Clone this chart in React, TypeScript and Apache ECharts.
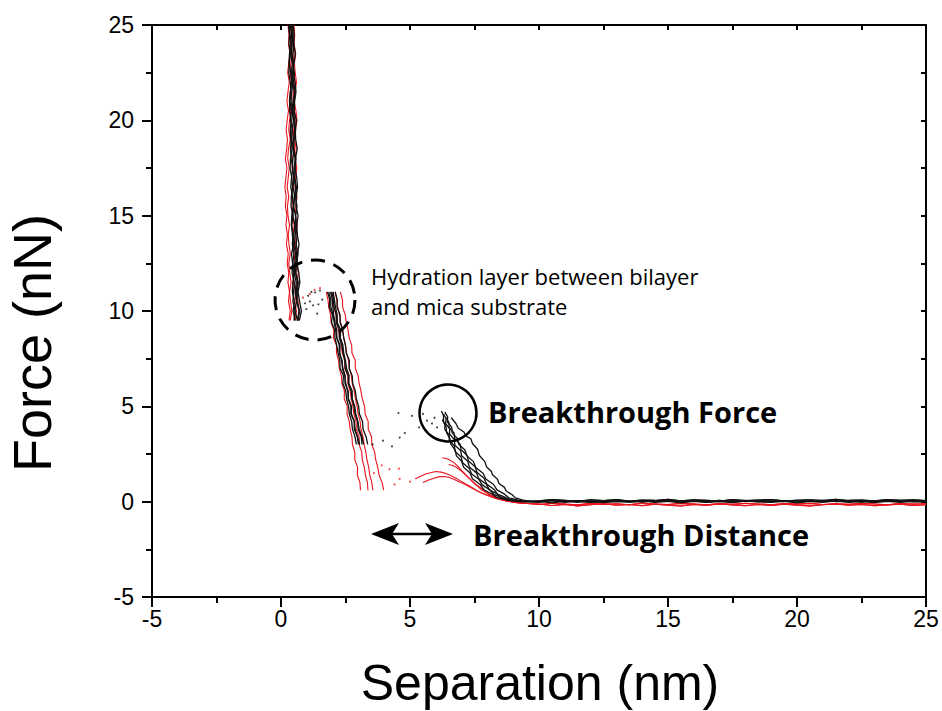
import React, { useEffect, useRef } from "react";
import * as echarts from "echarts";

// ---------- data ----------
// Hard-wall region: force levels (nN) and separation (nm) of each curve at those levels
const wallLevels = [25, 24.5, 24, 23.5, 23, 22.5, 22, 21.5, 21, 20.5, 20, 19.5, 19, 18.5, 18, 17.5, 17, 16.5, 16, 15.5, 15, 14.5, 14, 13.5, 13, 12.5, 12, 11.5, 11, 10.5, 10, 9.5];
const wallB1 = [0.40, 0.46, 0.43, 0.41, 0.49, 0.45, 0.44, 0.52, 0.47, 0.42, 0.49, 0.53, 0.48, 0.46, 0.55, 0.51, 0.50, 0.57, 0.52, 0.49, 0.56, 0.60, 0.55, 0.53, 0.61, 0.58, 0.56, 0.64, 0.59, 0.62, 0.70, 0.63];
const wallB2 = [0.32, 0.35, 0.40, 0.33, 0.31, 0.38, 0.42, 0.36, 0.34, 0.41, 0.37, 0.44, 0.40, 0.37, 0.39, 0.46, 0.41, 0.38, 0.45, 0.48, 0.42, 0.40, 0.47, 0.44, 0.50, 0.46, 0.43, 0.52, 0.49, 0.46, 0.55, 0.50];
const wallB3 = [0.47, 0.51, 0.49, 0.56, 0.50, 0.48, 0.55, 0.58, 0.53, 0.51, 0.60, 0.55, 0.57, 0.63, 0.56, 0.54, 0.61, 0.64, 0.59, 0.58, 0.66, 0.61, 0.63, 0.70, 0.64, 0.62, 0.69, 0.73, 0.66, 0.72, 0.79, 0.71];
const wallB4 = [0.36, 0.41, 0.38, 0.37, 0.44, 0.40, 0.46, 0.42, 0.39, 0.45, 0.48, 0.43, 0.41, 0.49, 0.46, 0.44, 0.51, 0.47, 0.53, 0.49, 0.46, 0.54, 0.50, 0.48, 0.57, 0.53, 0.51, 0.59, 0.55, 0.60, 0.54, 0.64];
const wallB5 = [0.43, 0.45, 0.50, 0.46, 0.44, 0.52, 0.48, 0.55, 0.50, 0.47, 0.53, 0.57, 0.51, 0.49, 0.58, 0.55, 0.53, 0.60, 0.56, 0.62, 0.57, 0.55, 0.63, 0.59, 0.66, 0.60, 0.58, 0.67, 0.63, 0.61, 0.72, 0.66];
const wallB6 = [0.29, 0.33, 0.31, 0.37, 0.32, 0.30, 0.36, 0.39, 0.34, 0.33, 0.40, 0.36, 0.38, 0.43, 0.37, 0.35, 0.42, 0.45, 0.40, 0.39, 0.46, 0.42, 0.44, 0.48, 0.41, 0.45, 0.50, 0.46, 0.44, 0.52, 0.47, 0.55];
const wallR1 = [0.36, 0.40, 0.37, 0.43, 0.38, 0.35, 0.41, 0.36, 0.32, 0.38, 0.33, 0.30, 0.36, 0.29, 0.26, 0.32, 0.28, 0.24, 0.30, 0.25, 0.27, 0.33, 0.28, 0.31, 0.36, 0.30, 0.34, 0.39, 0.33, 0.37, 0.42, 0.36];
const wallR2 = [0.44, 0.47, 0.45, 0.51, 0.46, 0.49, 0.54, 0.48, 0.46, 0.52, 0.55, 0.49, 0.47, 0.53, 0.45, 0.43, 0.50, 0.46, 0.41, 0.47, 0.44, 0.51, 0.47, 0.53, 0.50, 0.56, 0.51, 0.48, 0.57, 0.53, 0.60, 0.55];
const wallR3 = [0.27, 0.31, 0.29, 0.35, 0.30, 0.26, 0.32, 0.27, 0.23, 0.29, 0.24, 0.20, 0.25, 0.22, 0.17, 0.23, 0.19, 0.15, 0.20, 0.17, 0.23, 0.19, 0.25, 0.21, 0.28, 0.24, 0.30, 0.27, 0.33, 0.29, 0.36, 0.31];
const wallR4 = [0.50, 0.53, 0.51, 0.57, 0.52, 0.55, 0.60, 0.54, 0.51, 0.58, 0.62, 0.56, 0.53, 0.59, 0.55, 0.61, 0.57, 0.54, 0.62, 0.58, 0.56, 0.63, 0.59, 0.57, 0.64, 0.60, 0.67, 0.62, 0.59, 0.66, 0.71, 0.64];

// Second slope (bilayer compression after the hydration jump)
const slopeLevelsB = [11, 10.6, 10.2, 9.8, 9.4, 9.0, 8.6, 8.2, 7.8, 7.4, 7.0, 6.6, 6.2, 5.8, 5.4, 5.0, 4.6, 4.2, 3.8, 3.4, 3.0];
const slopeLevelsR = [11, 10.6, 10.2, 9.8, 9.4, 9.0, 8.6, 8.2, 7.8, 7.4, 7.0, 6.6, 6.2, 5.8, 5.4, 5.0, 4.6, 4.2, 3.8, 3.4, 3.0, 2.6, 2.2, 1.8, 1.4, 1.0, 0.6];
const slopeB1 = [1.92, 1.99, 2.01, 2.04, 2.09, 2.16, 2.16, 2.29, 2.28, 2.35, 2.40, 2.49, 2.48, 2.60, 2.61, 2.71, 2.71, 2.84, 2.84, 2.97, 3.05];
const slopeB2 = [1.80, 1.89, 1.87, 1.99, 1.96, 2.08, 2.09, 2.16, 2.21, 2.28, 2.29, 2.42, 2.40, 2.51, 2.54, 2.62, 2.65, 2.74, 2.77, 2.87, 2.92];
const slopeB3 = [2.02, 2.07, 2.11, 2.18, 2.18, 2.31, 2.30, 2.40, 2.43, 2.50, 2.54, 2.64, 2.63, 2.76, 2.76, 2.86, 2.90, 2.98, 3.03, 3.14, 3.20];
const slopeB4 = [1.85, 1.93, 1.93, 2.02, 2.06, 2.12, 2.16, 2.26, 2.25, 2.37, 2.38, 2.47, 2.51, 2.59, 2.61, 2.73, 2.73, 2.84, 2.87, 2.96, 3.00];
const slopeB5 = [1.97, 2.03, 2.06, 2.14, 2.14, 2.27, 2.26, 2.36, 2.40, 2.47, 2.49, 2.61, 2.61, 2.72, 2.75, 2.83, 2.87, 2.97, 2.99, 3.11, 3.14];
const slopeB6 = [2.10, 2.18, 2.17, 2.29, 2.29, 2.39, 2.43, 2.50, 2.53, 2.65, 2.64, 2.76, 2.78, 2.88, 2.92, 3.01, 3.04, 3.16, 3.18, 3.30, 3.36];
const slopeR1 = [2.30, 2.38, 2.39, 2.49, 2.53, 2.60, 2.64, 2.74, 2.75, 2.88, 2.88, 2.99, 3.03, 3.10, 3.15, 3.24, 3.26, 3.38, 3.38, 3.51, 3.52, 3.63, 3.67, 3.75, 3.80, 3.92, 3.98];
const slopeR2 = [1.75, 1.82, 1.85, 1.92, 1.94, 2.05, 2.03, 2.15, 2.15, 2.23, 2.26, 2.34, 2.36, 2.46, 2.45, 2.57, 2.56, 2.65, 2.68, 2.75, 2.77, 2.86, 2.86, 2.97, 2.96, 3.06, 3.08];
const slopeR3 = [2.10, 2.16, 2.20, 2.27, 2.31, 2.39, 2.43, 2.50, 2.54, 2.62, 2.65, 2.73, 2.76, 2.84, 2.88, 2.95, 2.99, 3.07, 3.10, 3.18, 3.22, 3.29, 3.33, 3.40, 3.44, 3.52, 3.56];
const slopeR4 = [1.95, 2.04, 2.03, 2.14, 2.16, 2.23, 2.27, 2.35, 2.37, 2.48, 2.47, 2.59, 2.59, 2.68, 2.72, 2.79, 2.82, 2.91, 2.92, 3.03, 3.03, 3.13, 3.15, 3.23, 3.27, 3.35, 3.37];

// Breakthrough region: [separation, force]
const dropB1 = [[6.22, 4.75], [6.30, 4.50], [6.30, 4.22], [6.40, 3.92], [6.42, 3.61], [6.55, 3.30], [6.58, 3.02], [6.75, 2.71], [6.80, 2.40], [7.00, 2.12], [7.08, 1.80], [7.32, 1.52], [7.42, 1.20], [7.72, 0.90], [7.88, 0.61], [8.18, 0.40], [8.38, 0.21], [8.75, 0.09], [9.10, 0.02]];
const dropB2 = [[6.30, 4.60], [6.40, 4.35], [6.38, 4.10], [6.54, 3.82], [6.53, 3.55], [6.72, 3.25], [6.74, 2.96], [6.96, 2.68], [7.00, 2.41], [7.24, 2.12], [7.30, 1.82], [7.58, 1.51], [7.66, 1.21], [7.96, 0.91], [8.08, 0.62], [8.38, 0.41], [8.52, 0.22], [8.90, 0.09], [9.25, 0.02]];
const dropB3 = [[6.40, 4.40], [6.51, 4.15], [6.52, 3.88], [6.71, 3.60], [6.73, 3.31], [6.94, 3.02], [6.98, 2.72], [7.21, 2.43], [7.27, 2.13], [7.52, 1.83], [7.60, 1.53], [7.87, 1.23], [7.97, 0.93], [8.26, 0.64], [8.39, 0.40], [8.70, 0.22], [8.90, 0.10], [9.30, 0.03]];
const dropB4 = [[6.25, 4.30], [6.35, 4.05], [6.35, 3.78], [6.52, 3.50], [6.52, 3.22], [6.72, 2.93], [6.75, 2.63], [6.98, 2.34], [7.04, 2.04], [7.30, 1.74], [7.39, 1.45], [7.68, 1.16], [7.80, 0.88], [8.11, 0.60], [8.25, 0.38], [8.58, 0.20], [8.77, 0.08], [9.15, 0.01]];
const dropB5 = [[6.35, 4.70], [6.46, 4.45], [6.45, 4.18], [6.62, 3.90], [6.63, 3.61], [6.84, 3.31], [6.89, 3.01], [7.13, 2.71], [7.20, 2.41], [7.46, 2.10], [7.55, 1.79], [7.83, 1.49], [7.94, 1.19], [8.24, 0.90], [8.37, 0.62], [8.68, 0.38], [8.83, 0.20], [9.20, 0.08], [9.50, 0.02]];
const dropB6 = [[6.60, 4.40], [6.78, 4.10], [6.87, 3.85], [7.09, 3.65], [7.16, 3.45], [7.36, 3.30], [7.42, 3.05], [7.62, 2.75], [7.69, 2.42], [7.90, 2.10], [7.97, 1.82], [8.16, 1.58], [8.19, 1.42], [8.39, 1.18], [8.45, 0.95], [8.66, 0.75], [8.73, 0.56], [8.96, 0.36], [9.08, 0.20], [9.38, 0.08], [9.70, 0.02]];
const dropR1 = [[6.25, 2.30], [6.40, 2.26], [6.55, 2.18], [6.70, 2.05], [6.85, 1.86], [7.00, 1.64], [7.15, 1.43], [7.30, 1.22], [7.45, 1.00], [7.62, 0.80], [7.80, 0.60], [8.00, 0.42], [8.20, 0.27], [8.45, 0.14], [8.75, 0.03], [9.10, -0.05]];
const dropR2 = [[6.50, 1.95], [6.65, 1.90], [6.80, 1.80], [6.95, 1.65], [7.10, 1.47], [7.25, 1.28], [7.40, 1.10], [7.55, 0.92], [7.72, 0.74], [7.90, 0.55], [8.10, 0.38], [8.35, 0.22], [8.60, 0.10], [8.90, 0.01], [9.20, -0.06]];
const dropR3 = [[5.20, 1.20], [5.40, 1.32], [5.60, 1.45], [5.80, 1.52], [6.00, 1.58], [6.20, 1.55], [6.40, 1.48], [6.60, 1.36], [6.80, 1.22], [7.00, 1.05], [7.20, 0.90], [7.40, 0.74], [7.60, 0.58], [7.80, 0.44], [8.00, 0.32], [8.25, 0.20], [8.50, 0.10], [8.80, 0.02], [9.20, -0.06]];
const dropR4 = [[5.50, 1.00], [5.70, 1.12], [5.90, 1.22], [6.10, 1.30], [6.30, 1.32], [6.50, 1.28], [6.70, 1.18], [6.90, 1.05], [7.10, 0.92], [7.30, 0.78], [7.50, 0.64], [7.70, 0.50], [7.95, 0.36], [8.20, 0.24], [8.45, 0.14], [8.75, 0.05], [9.10, -0.04]];

// Baseline (non-contact) region
const baseLevels = [10, 10.5, 11, 11.5, 12, 12.5, 13, 13.5, 14, 14.5, 15, 15.5, 16, 16.5, 17, 17.5, 18, 18.5, 19, 19.5, 20, 20.5, 21, 21.5, 22, 22.5, 23, 23.5, 24, 24.5, 25];
const baseB1 = [-0.02, 0.05, 0.00, 0.04, -0.03, 0.02, 0.06, -0.01, 0.03, 0.00, 0.05, -0.02, 0.04, 0.01, 0.06, -0.01, 0.03, 0.05, 0.00, 0.04, -0.02, 0.03, 0.06, 0.01, 0.04, -0.01, 0.05, 0.02, 0.03, 0.06, 0.01];
const baseB2 = [0.02, -0.06, 0.01, -0.03, 0.03, -0.05, 0.00, -0.02, 0.04, -0.04, 0.01, -0.06, 0.02, -0.03, 0.00, -0.05, 0.03, -0.01, -0.04, 0.02, -0.06, 0.01, -0.02, 0.03, -0.04, 0.00, -0.05, 0.02, -0.03, 0.01, -0.02];
const baseB3 = [0.04, 0.10, 0.06, 0.02, 0.09, 0.05, 0.11, 0.03, 0.08, 0.06, 0.12, 0.04, 0.09, 0.07, 0.03, 0.10, 0.05, 0.08, 0.11, 0.04, 0.07, 0.09, 0.05, 0.12, 0.06, 0.08, 0.04, 0.10, 0.07, 0.09, 0.05];
const baseB4 = [0.01, 0.07, -0.03, 0.05, 0.02, -0.01, 0.06, 0.03, -0.02, 0.05, 0.08, 0.01, 0.04, -0.03, 0.06, 0.02, 0.07, -0.01, 0.04, 0.01, 0.06, 0.03, -0.02, 0.05, 0.02, 0.07, 0.00, 0.04, 0.06, -0.01, 0.03];
const baseR1 = [-0.12, -0.20, -0.14, -0.22, -0.16, -0.11, -0.19, -0.15, -0.21, -0.13, -0.18, -0.23, -0.14, -0.19, -0.12, -0.17, -0.21, -0.15, -0.20, -0.13, -0.18, -0.22, -0.16, -0.12, -0.19, -0.15, -0.21, -0.17, -0.13, -0.20, -0.16];
const baseR2 = [-0.15, -0.08, -0.13, -0.17, -0.09, -0.14, -0.11, -0.16, -0.07, -0.12, -0.15, -0.09, -0.13, -0.17, -0.10, -0.14, -0.08, -0.12, -0.16, -0.10, -0.13, -0.09, -0.15, -0.11, -0.14, -0.08, -0.12, -0.16, -0.10, -0.13, -0.11];

// Sparse points in the jump-in gaps
const gapDotsBlack = [[0.93, 10.4], [1.05, 10.8], [1.12, 10.5], [1.24, 10.3], [1.32, 10.97], [1.51, 11.07], [1.40, 9.86], [1.60, 10.6], [1.18, 11.0], [0.98, 10.1], [1.45, 10.35], [3.55, 3.0], [3.95, 3.2], [4.30, 2.9], [4.60, 3.36], [4.80, 3.6], [5.08, 4.5], [5.35, 3.9], [5.50, 4.6], [5.66, 4.25], [5.85, 4.1], [5.95, 4.4], [6.05, 3.9], [4.55, 4.65]];
const gapDotsRed = [[1.12, 10.9], [1.51, 11.2], [0.85, 10.7], [1.30, 11.1], [3.60, 1.5], [3.90, 1.9], [4.20, 1.7], [4.40, 0.9], [4.57, 1.73], [4.60, 1.2], [5.00, 1.05]];

const xTickValues = [-5, 0, 5, 10, 15, 20, 25];
const yTickValues = [-5, 0, 5, 10, 15, 20, 25];

// ---------- helpers ----------
const BLACK = "#111111";
const RED = "#e8141c";
const zipX = (xs: number[], ys: number[]) => xs.slice(0, ys.length).map((x, i) => [x, ys[i]]);
const zipY = (xs: number[], ys: number[]) => ys.slice(0, xs.length).map((y, i) => [xs[i], y]);
const lineSeries = (data: number[][], color: string) => ({
  type: "line",
  data,
  symbol: "none",
  showSymbol: false,
  silent: true,
  lineStyle: { color, width: color === RED ? 1.1 : 1.3 },
  z: color === RED ? 2 : 3,
});

const blackCurves = [
  [wallB1, slopeB1, dropB1, baseB1],
  [wallB2, slopeB2, dropB2, baseB2],
  [wallB3, slopeB3, dropB3, baseB3],
  [wallB4, slopeB4, dropB4, baseB4],
  [wallB5, slopeB5, dropB5, baseB1],
  [wallB6, slopeB6, dropB6, baseB3],
] as any[];
const redCurves = [
  [wallR1, slopeR1, dropR1, baseR1],
  [wallR2, slopeR2, dropR2, baseR2],
  [wallR3, slopeR3, dropR3, baseR1],
  [wallR4, slopeR4, dropR4, baseR2],
] as any[];

const FONT = '"Liberation Sans", Arial, sans-serif';
const MYRIAD = '"Open Sans", "Noto Sans", sans-serif';

export default function App() {
  const ref = useRef<HTMLDivElement>(null);
  useEffect(() => {
    if (!ref.current) return;
    const chart = echarts.init(ref.current, undefined, { renderer: "svg" });
    const series: any[] = [];
    redCurves.forEach(([w, s, d, b]) => {
      series.push(lineSeries(zipY(w, wallLevels), RED));
      series.push(lineSeries(zipY(s, slopeLevelsR), RED));
      series.push(lineSeries([...d, ...zipX(baseLevels, b)], RED));
    });
    blackCurves.forEach(([w, s, d, b]) => {
      series.push(lineSeries(zipY(w, wallLevels), BLACK));
      series.push(lineSeries(zipY(s, slopeLevelsB), BLACK));
      series.push(lineSeries([...d, ...zipX(baseLevels, b)], BLACK));
    });
    series.push({ type: "scatter", data: gapDotsRed, symbolSize: 2, itemStyle: { color: RED }, silent: true, z: 2 });
    series.push({ type: "scatter", data: gapDotsBlack, symbolSize: 2, itemStyle: { color: BLACK }, silent: true, z: 3 });

    const axisLine = { onZero: false, lineStyle: { color: "#000", width: 2 } };
    chart.setOption({
      animation: false,
      backgroundColor: "#fff",
      grid: { left: 152, right: 16, top: 25, bottom: 114, containLabel: false },
      xAxis: [
        {
          type: "value", min: xTickValues[0], max: xTickValues[xTickValues.length - 1], interval: 5, position: "bottom",
          axisLine, splitLine: { show: false },
          axisTick: { length: 10, lineStyle: { color: "#000", width: 2 } },
          minorTick: { show: true, splitNumber: 2, length: 6, lineStyle: { color: "#000", width: 2 } },
          axisLabel: { fontSize: 23, color: "#000", margin: 10, fontFamily: FONT },
        },
        {
          type: "value", min: -5, max: 25, interval: 2.5, position: "top",
          axisLine, splitLine: { show: false },
          axisTick: { inside: true, length: 5, lineStyle: { color: "#000", width: 2 } },
          axisLabel: { show: false },
        },
      ],
      yAxis: [
        {
          type: "value", min: yTickValues[0], max: yTickValues[yTickValues.length - 1], interval: 5, position: "left",
          axisLine, splitLine: { show: false },
          axisTick: { length: 10, lineStyle: { color: "#000", width: 2 } },
          minorTick: { show: true, splitNumber: 2, length: 6, lineStyle: { color: "#000", width: 2 } },
          axisLabel: { fontSize: 23, color: "#000", margin: 18, fontFamily: FONT },
        },
        {
          type: "value", min: -5, max: 25, interval: 2.5, position: "right",
          axisLine, splitLine: { show: false },
          axisTick: { inside: true, length: 5, lineStyle: { color: "#000", width: 2 } },
          axisLabel: { show: false },
        },
      ],
      series,
      graphic: [
        { type: "text", x: 540, y: 683, style: { text: "Separation (nm)", font: `50px ${FONT}`, fill: "#000", align: "center", verticalAlign: "middle" } },
        { type: "text", x: 32, y: 343, rotation: Math.PI / 2, style: { text: "Force (nN)", font: `54px ${FONT}`, fill: "#000", align: "center", verticalAlign: "middle" } },
        { type: "circle", shape: { cx: 315, cy: 300, r: 40 }, style: { fill: "none", stroke: "#000", lineWidth: 3, lineDash: [14, 9] }, z: 10 },
        { type: "circle", shape: { cx: 448, cy: 413, r: 28.5 }, style: { fill: "none", stroke: "#000", lineWidth: 2.5 }, z: 10 },
        { type: "text", x: 371, y: 276, style: { text: "Hydration layer between bilayer", font: `22px ${MYRIAD}`, fill: "#000", align: "left", verticalAlign: "middle" } },
        { type: "text", x: 371, y: 306, style: { text: "and mica substrate", font: `22px ${MYRIAD}`, fill: "#000", align: "left", verticalAlign: "middle" } },
        { type: "text", x: 488, y: 411, style: { text: "Breakthrough Force", font: `bold 29px ${MYRIAD}`, fill: "#000", align: "left", verticalAlign: "middle" } },
        { type: "text", x: 473, y: 534, style: { text: "Breakthrough Distance", font: `bold 29px ${MYRIAD}`, fill: "#000", align: "left", verticalAlign: "middle" } },
        { type: "line", shape: { x1: 390, y1: 534, x2: 434, y2: 534 }, style: { stroke: "#000", lineWidth: 2.5 } },
        { type: "polygon", shape: { points: [[371, 534], [399, 523], [392, 534], [399, 545]] }, style: { fill: "#000" } },
        { type: "polygon", shape: { points: [[453, 534], [425, 523], [432, 534], [425, 545]] }, style: { fill: "#000" } },
      ],
    });
    return () => chart.dispose();
  }, []);
  return <div ref={ref} style={{ position: "absolute", left: 0, top: 0, width: 942, height: 711 }} />;
}
